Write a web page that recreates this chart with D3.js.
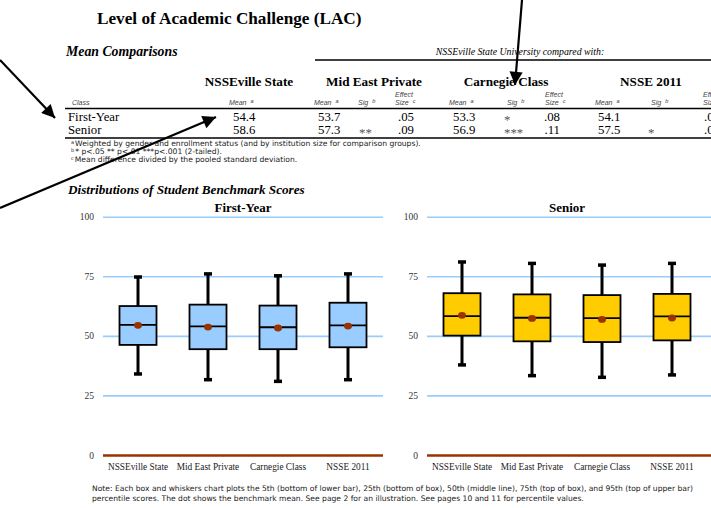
<!DOCTYPE html>
<html>
<head>
<meta charset="utf-8">
<script src="https://cdnjs.cloudflare.com/ajax/libs/d3/7.8.5/d3.min.js"></script>
<style>
  body { margin: 0; background: #fff; }
  svg { display: block; }
</style>
</head>
<body>
<div id="chart"></div>
<script>
// ---- data ----
var groups = ["NSSEville State", "Mid East Private", "Carnegie Class", "NSSE 2011"];
var classes = ["First-Year", "Senior"];

// table
var nssevilleMeans = ["54.4", "58.6"];
var midEastMeans = ["53.7", "57.3"], midEastSig = ["", "**"], midEastEffect = [".05", ".09"];
var carnegieMeans = ["53.3", "56.9"], carnegieSig = ["*", "***"], carnegieEffect = [".08", ".11"];
var nsseMeans = ["54.1", "57.5"], nsseSig = ["", "*"], nsseEffect = [".03", ".08"];

// box plots (5th, 25th, 50th, 75th, 95th percentiles and mean)
var fyP5  = [34.0, 31.6, 30.9, 31.6];
var fyP25 = [46.2, 44.4, 44.4, 45.2];
var fyP50 = [54.6, 54.0, 53.6, 54.4];
var fyP75 = [62.5, 63.1, 62.7, 63.9];
var fyP95 = [74.7, 76.0, 75.2, 76.0];
var fyMean = [54.4, 53.7, 53.3, 54.1];

var srP5  = [37.8, 33.3, 32.6, 33.6];
var srP25 = [50.1, 47.7, 47.4, 48.1];
var srP50 = [58.3, 57.6, 57.4, 58.2];
var srP75 = [67.9, 67.4, 67.1, 67.6];
var srP95 = [81.0, 80.4, 79.7, 80.4];
var srMean = [58.6, 57.3, 56.9, 57.5];

var yTicks = [0, 25, 50, 75, 100];

var serif = "'Liberation Serif', 'Times New Roman', serif";
var sans = "'Liberation Sans', Arial, sans-serif";
var wideSans = "'DejaVu Sans', Verdana, sans-serif";

var svg = d3.select("#chart").append("svg")
    .attr("width", 711)
    .attr("height", 508);

// ---- title + table ----
svg.append("text").attr("x", 97).attr("y", 24)
    .style("font-family", serif).style("font-size", "17.2px").style("font-weight", "bold")
    .text("Level of Academic Challenge (LAC)");

svg.append("text").attr("x", 66).attr("y", 56)
    .style("font-family", serif).style("font-size", "13.8px").style("font-weight", "bold").style("font-style", "italic")
    .text("Mean Comparisons");

svg.append("text").attr("x", 520).attr("y", 55).attr("text-anchor", "middle")
    .style("font-family", serif).style("font-size", "9.8px").style("font-style", "italic")
    .text("NSSEville State University compared with:");

svg.append("line").attr("x1", 315).attr("x2", 711).attr("y1", 60).attr("y2", 60)
    .attr("stroke", "#000").attr("stroke-width", 1.3);

var headCenters = [249, 374, 506, 651];
svg.selectAll(".colhead").data(groups).enter().append("text")
    .attr("x", function(d, i) { return headCenters[i]; })
    .attr("y", 86)
    .attr("text-anchor", "middle")
    .style("font-family", serif).style("font-size", "13.2px").style("font-weight", "bold")
    .text(function(d) { return d; });

// small italic sub headers
function sub(x, y, txt, sup) {
    var t = svg.append("text").attr("x", x).attr("y", y)
        .style("font-family", sans).style("font-size", "7px").style("font-style", "italic").style("fill", "#444")
        .text(txt);
    if (sup) t.append("tspan").attr("dx", 4).attr("dy", -2).style("font-size", "5.5px").text(sup);
}
sub(72, 105, "Class");
sub(229, 105, "Mean", "a");
sub(314, 105, "Mean", "a"); sub(358, 105, "Sig", "b"); sub(395, 97, "Effect"); sub(395, 105, "Size", "c");
sub(449, 105, "Mean", "a"); sub(507, 105, "Sig", "b"); sub(545, 97, "Effect"); sub(545, 105, "Size", "c");
sub(595, 105, "Mean", "a"); sub(651, 105, "Sig", "b"); sub(703, 97, "Effect"); sub(703, 105, "Size", "c");

svg.append("line").attr("x1", 65).attr("x2", 711).attr("y1", 108.5).attr("y2", 108.5)
    .attr("stroke", "#000").attr("stroke-width", 1.5);

var rowY = d3.scalePoint().domain(classes).range([121, 134]);
var cells = [
    {vals: classes, x: 68, anchor: "start"},
    {vals: nssevilleMeans, x: 233, anchor: "start"},
    {vals: midEastMeans, x: 318, anchor: "start"},
    {vals: midEastSig, x: 359, anchor: "start"},
    {vals: midEastEffect, x: 414, anchor: "end"},
    {vals: carnegieMeans, x: 453, anchor: "start"},
    {vals: carnegieSig, x: 504, anchor: "start"},
    {vals: carnegieEffect, x: 560, anchor: "end"},
    {vals: nsseMeans, x: 598, anchor: "start"},
    {vals: nsseSig, x: 648, anchor: "start"},
    {vals: nsseEffect, x: 720, anchor: "end"}
];
cells.forEach(function(c) {
    svg.selectAll(null).data(c.vals).enter().append("text")
        .attr("x", c.x)
        .attr("y", function(d, i) { return rowY(classes[i]) + (d.indexOf("*") === 0 ? 3 : 0); })
        .attr("text-anchor", c.anchor)
        .style("font-family", serif).style("font-size", "12.8px")
        .style("fill", function(d) { return d.indexOf("*") === 0 ? "#555" : "#000"; })
        .text(function(d) { return d; });
});

svg.append("line").attr("x1", 65).attr("x2", 711).attr("y1", 138).attr("y2", 138)
    .attr("stroke", "#000").attr("stroke-width", 1.5);

var notes = [
    ["a", "Weighted by gender and enrollment status (and by institution size for comparison groups)."],
    ["b", "* p<.05 ** p<.01 ***p<.001 (2-tailed)."],
    ["c", "Mean difference divided by the pooled standard deviation."]
];
notes.forEach(function(n, i) {
    var t = svg.append("text").attr("x", 71).attr("y", 146 + i * 8)
        .style("font-family", wideSans).style("font-size", "7.6px").style("fill", "#222");
    t.append("tspan").attr("dy", -2).style("font-size", "5px").text(n[0]);
    t.append("tspan").attr("dy", 2).attr("dx", 1).text(n[1]);
});

// ---- box plots ----
svg.append("text").attr("x", 68).attr("y", 194)
    .style("font-family", serif).style("font-size", "13.2px").style("font-weight", "bold").style("font-style", "italic")
    .text("Distributions of Student Benchmark Scores");

var y = d3.scaleLinear().domain([0, 100]).range([455, 216.7]);

var panels = [
    {title: "First-Year", x0: 103, x1: 383, gridEnd: 383, fill: "#99ccff",
     p5: fyP5, p25: fyP25, p50: fyP50, p75: fyP75, p95: fyP95, mean: fyMean},
    {title: "Senior", x0: 427, x1: 707, gridEnd: 712, fill: "#ffcc00",
     p5: srP5, p25: srP25, p50: srP50, p75: srP75, p95: srP95, mean: srMean}
];

var boxW = 37, capW = 8;

panels.forEach(function(p) {
    var x = d3.scaleBand().domain(groups).range([p.x0, p.x1]);
    var g = svg.append("g");

    // y axis with gridlines
    var yAxis = g.append("g")
        .attr("transform", "translate(" + p.x0 + ",0)")
        .call(d3.axisLeft(y).tickValues(yTicks).tickSize(-(p.gridEnd - p.x0)).tickPadding(9));
    yAxis.select(".domain").remove();
    yAxis.selectAll(".tick line")
        .attr("stroke", function(d) { return d === 0 ? "#993300" : "#99ccff"; })
        .attr("stroke-width", function(d) { return d === 0 ? 2.6 : 1.6; });
    yAxis.selectAll(".tick text")
        .style("font-family", serif).style("font-size", "9.5px").style("fill", "#333");

    // x axis labels
    var xAxis = g.append("g")
        .attr("transform", "translate(0," + y(0) + ")")
        .call(d3.axisBottom(x).tickSize(0).tickPadding(8));
    xAxis.select(".domain").remove();
    xAxis.selectAll(".tick text")
        .style("font-family", serif).style("font-size", "9.3px").style("fill", "#222");

    g.append("text")
        .attr("x", (p.x0 + p.x1) / 2).attr("y", 212)
        .attr("text-anchor", "middle")
        .style("font-family", serif).style("font-size", "13px").style("font-weight", "bold")
        .text(p.title);

    var boxes = g.selectAll(".box").data(groups).enter().append("g")
        .attr("transform", function(d) { return "translate(" + (x(d) + x.bandwidth() / 2) + ",0)"; });

    // whiskers
    boxes.append("line")
        .attr("y1", function(d, i) { return y(p.p95[i]); })
        .attr("y2", function(d, i) { return y(p.p5[i]); })
        .attr("stroke", "#000").attr("stroke-width", 3);
    [p.p95, p.p5].forEach(function(arr) {
        boxes.append("line")
            .attr("x1", -capW / 2).attr("x2", capW / 2)
            .attr("y1", function(d, i) { return y(arr[i]); })
            .attr("y2", function(d, i) { return y(arr[i]); })
            .attr("stroke", "#000").attr("stroke-width", 3.5);
    });

    boxes.append("rect")
        .attr("x", -boxW / 2).attr("width", boxW)
        .attr("y", function(d, i) { return y(p.p75[i]); })
        .attr("height", function(d, i) { return y(p.p25[i]) - y(p.p75[i]); })
        .attr("fill", p.fill).attr("stroke", "#000").attr("stroke-width", 1.8);

    boxes.append("line")
        .attr("x1", -boxW / 2).attr("x2", boxW / 2)
        .attr("y1", function(d, i) { return y(p.p50[i]); })
        .attr("y2", function(d, i) { return y(p.p50[i]); })
        .attr("stroke", "#000").attr("stroke-width", 1.8);

    boxes.append("ellipse")
        .attr("cx", 0).attr("rx", 4).attr("ry", 3.4)
        .attr("cy", function(d, i) { return y(p.mean[i]); })
        .attr("fill", "#993300");
});

// bottom note
var noteLines = [
    "Note: Each box and whiskers chart plots the 5th (bottom of lower bar), 25th (bottom of box), 50th (middle line), 75th (top of box), and 95th (top of upper bar)",
    "percentile scores. The dot shows the benchmark mean. See page 2 for an illustration. See pages 10 and 11 for percentile values."
];
svg.selectAll(".note").data(noteLines).enter().append("text")
    .attr("x", 92).attr("y", function(d, i) { return 491 + i * 10; })
    .style("font-family", wideSans).style("font-size", "7.6px").style("fill", "#222")
    .text(function(d) { return d; });

// ---- annotation arrows ----
svg.append("defs").append("marker")
    .attr("id", "head").attr("viewBox", "0 0 10 10")
    .attr("refX", 10).attr("refY", 5)
    .attr("markerWidth", 7).attr("markerHeight", 6)
    .attr("markerUnits", "strokeWidth")
    .attr("orient", "auto")
    .append("path").attr("d", "M0,0L10,5L0,10z").attr("fill", "#000");

var arrows = [[0, 60, 55, 118], [0, 208, 216, 117], [522, 0, 515, 85]];
svg.selectAll(".arrow").data(arrows).enter().append("line")
    .attr("x1", function(d) { return d[0]; }).attr("y1", function(d) { return d[1]; })
    .attr("x2", function(d) { return d[2]; }).attr("y2", function(d) { return d[3]; })
    .attr("stroke", "#000").attr("stroke-width", 2.2)
    .attr("marker-end", "url(#head)");
</script>
</body>
</html>
